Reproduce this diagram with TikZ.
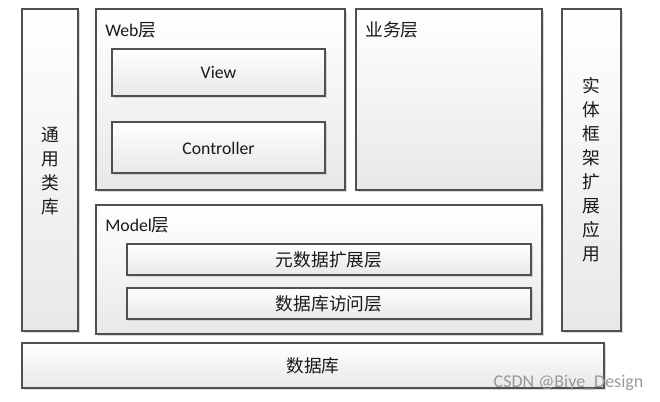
\documentclass[tikz,border=0pt]{standalone}
\usepackage{fontspec}
\setmainfont{Carlito}
\newfontfamily\zhfont{Noto Sans CJK SC}
\usetikzlibrary{shadows}

\definecolor{boxline}{RGB}{80,80,80}
\definecolor{boxbottom}{RGB}{232,232,232}
\tikzset{
    layerbox/.style={draw=boxline, line width=0.8pt, top color=white, bottom color=boxbottom,
        drop shadow={shadow xshift=1.5pt, shadow yshift=-1.5pt, fill=black!25, opacity=0.6}},
    boxtext/.style={inner sep=0.75pt, font=\fontsize{13.3}{18}\selectfont, text=black!90},
    vtext/.style={boxtext, align=center, font=\fontsize{13.3}{18}\selectfont\zhfont},
}

\begin{document}
\begin{tikzpicture}[x=0.75pt,y=0.75pt,yscale=-1,xscale=1]
    \useasboundingbox (0,0) rectangle (660,402);

    %Shape: left column
    \draw[layerbox] (22,9) rectangle (78,331);
    %Shape: Web layer
    \draw[layerbox] (96,9) rectangle (345,190);
    \draw[layerbox] (112,49) rectangle (325,96);
    \draw[layerbox] (112,122) rectangle (325,173);
    %Shape: business layer
    \draw[layerbox] (356,9) rectangle (542,190);
    %Shape: right column
    \draw[layerbox] (562,9) rectangle (621,331);
    %Shape: Model layer
    \draw[layerbox] (96,205) rectangle (542,334);
    \draw[layerbox] (127,244) rectangle (531,275);
    \draw[layerbox] (127,288) rectangle (531,319);
    %Shape: database
    \draw[layerbox] (22,343) rectangle (604,388);

    % Text Node
    \node[vtext] (commonlib) at (50,171) {通\\用\\类\\库};
    % Text Node
    \node[boxtext, anchor=west] (weblabel) at (104,30) {Web{\zhfont 层}};
    % Text Node
    \node[boxtext] (view) at (218.5,72.5) {View};
    % Text Node
    \node[boxtext] (controller) at (218.5,148) {Controller};
    % Text Node
    \node[boxtext, anchor=west] (bizlabel) at (364,30) {\zhfont 业务层};
    % Text Node
    \node[vtext] (efext) at (591.5,170) {实\\体\\框\\架\\扩\\展\\应\\用};
    % Text Node
    \node[boxtext, anchor=west] (modellabel) at (104,225) {Model{\zhfont 层}};
    % Text Node
    \node[boxtext] (metadata) at (329,259.5) {\zhfont 元数据扩展层};
    % Text Node
    \node[boxtext] (dbaccess) at (329,303.5) {\zhfont 数据库访问层};
    % Text Node
    \node[boxtext] (database) at (313,365.5) {\zhfont 数据库};
    % Text Node
    \node[inner sep=0.75pt, font=\fontsize{13.5}{16}\selectfont, text=black!40] (mark) at (568.5,383) {CSDN @Biye\_Design};
\end{tikzpicture}
\end{document}
